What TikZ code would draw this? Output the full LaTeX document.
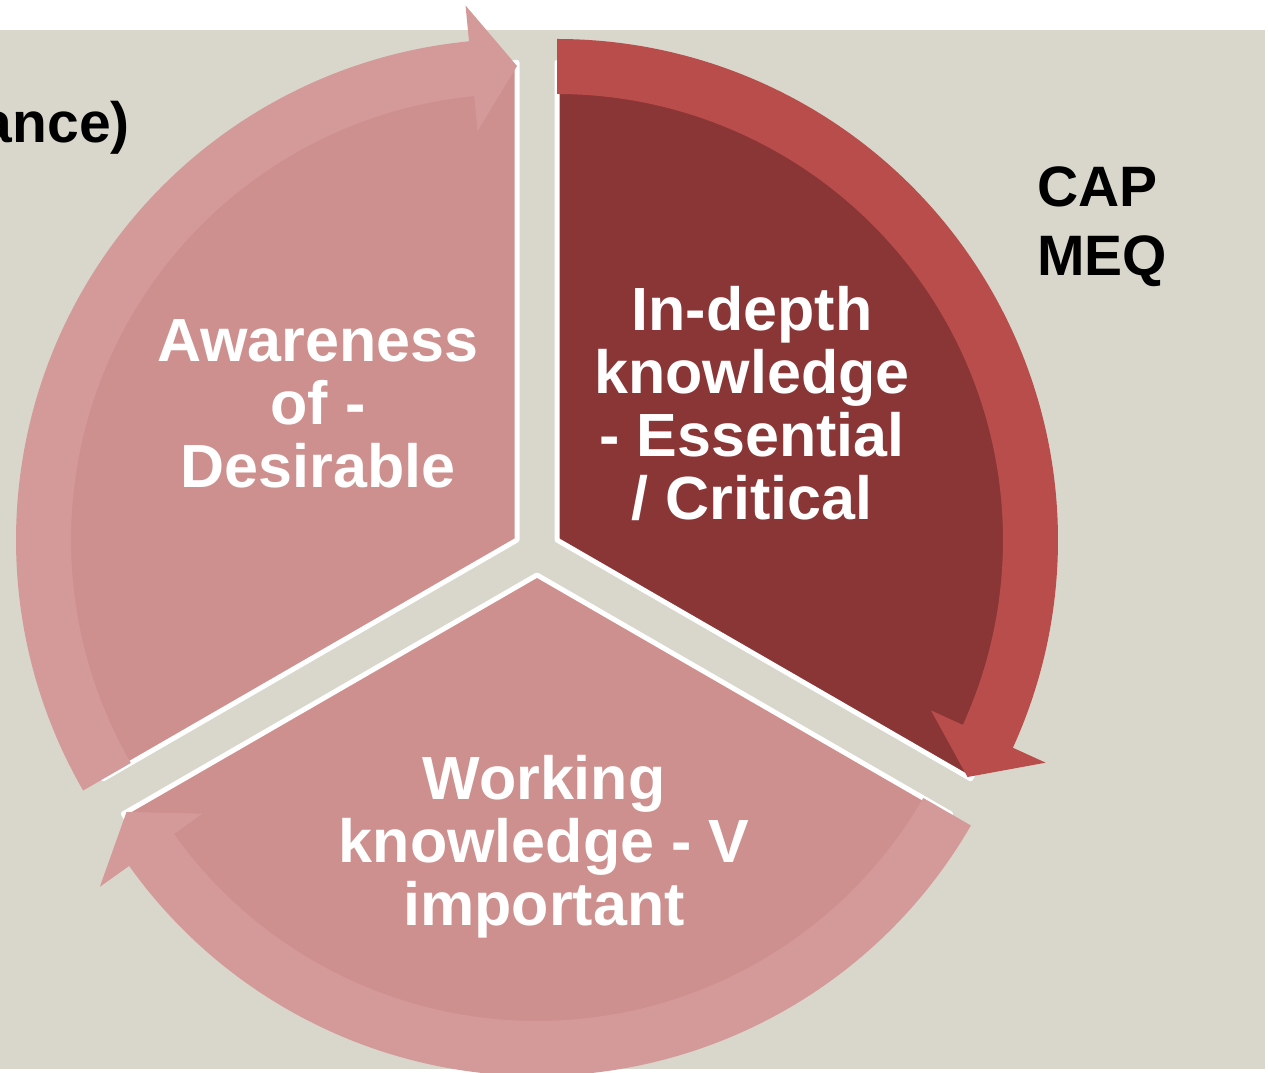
\documentclass[tikz,border=0pt]{standalone}
\usepackage{fontspec}
\setmainfont{Liberation Sans}
\definecolor{bgbeige}{HTML}{D9D7CB}
\definecolor{lightpiece}{HTML}{CE908E}
\definecolor{lightring}{HTML}{D49A99}
\definecolor{darkpiece}{HTML}{8B3636}
\definecolor{darkring}{HTML}{B84D4B}

\begin{document}
\begin{tikzpicture}[x=1pt,y=1pt,line join=round]
	\tikzstyle{piece}=[draw=white,line width=5pt]
	\tikzstyle{sectext}=[text=white,font=\fontsize{61}{63}\selectfont\bfseries,align=center,inner sep=0pt]
	\tikzstyle{sidetext}=[text=black,font=\fontsize{57}{69}\selectfont\bfseries,inner sep=0pt]

	\useasboundingbox (0,0) rectangle (1268,1072);
	\fill[white] (0,0) rectangle (1268,1072);
	\fill[bgbeige] (0,3) rectangle (1265,1042);

	\coordinate (Ocrit) at (557,532);
	\coordinate (Oaware) at (517,532);
	\coordinate (Owork) at (537,497);

	% the three pieces of the cycle
	\filldraw[piece,fill=darkpiece] (Ocrit) -- ++(90:477.5) arc[start angle=90,end angle=-30,radius=477.5] -- cycle;
	\filldraw[piece,fill=lightpiece] (Oaware) -- ++(210:477.5) arc[start angle=210,end angle=90,radius=477.5] -- cycle;
	\filldraw[piece,fill=lightpiece] (Owork) -- ++(-30:477.5) arc[start angle=-30,end angle=-150,radius=477.5] -- cycle;

	% circular arrows
	\fill[darkring,shift={(Ocrit)}] (90:501) arc[start angle=90,end angle=-24.5,radius=501]
		-- (-24.5:537) -- (-30:474) -- (-24.5:411) -- (-24.5:446)
		arc[start angle=-24.5,end angle=90,radius=446] -- cycle;
	\fill[lightring,shift={(Oaware)}] (210:501) arc[start angle=210,end angle=95.5,radius=501]
		-- (95.5:537) -- (90:474) -- (95.5:411) -- (95.5:446)
		arc[start angle=95.5,end angle=210,radius=446] -- cycle;
	\fill[lightring,shift={(Owork)}] (-30:501) arc[start angle=-30,end angle=-144.5,radius=501]
		-- (-144.5:537) -- (-150:474) -- (-144.5:411) -- (-144.5:446)
		arc[start angle=-144.5,end angle=-30,radius=446] -- cycle;

	\node[sectext] (aware) at (318,668) {Awareness\\of -\\Desirable};
	\node[sectext] (crit) at (752,668) {In-depth\\knowledge\\- Essential\\/ Critical};
	\node[sectext] (work) at (544,225) {Working\\knowledge - V\\important};

	\node[sidetext,align=left,anchor=west] (capmeq) at (1037,845) {CAP\\MEQ};
	\node[sidetext,anchor=base east] (ance) at (130,929) {ance)};
\end{tikzpicture}
\end{document}
